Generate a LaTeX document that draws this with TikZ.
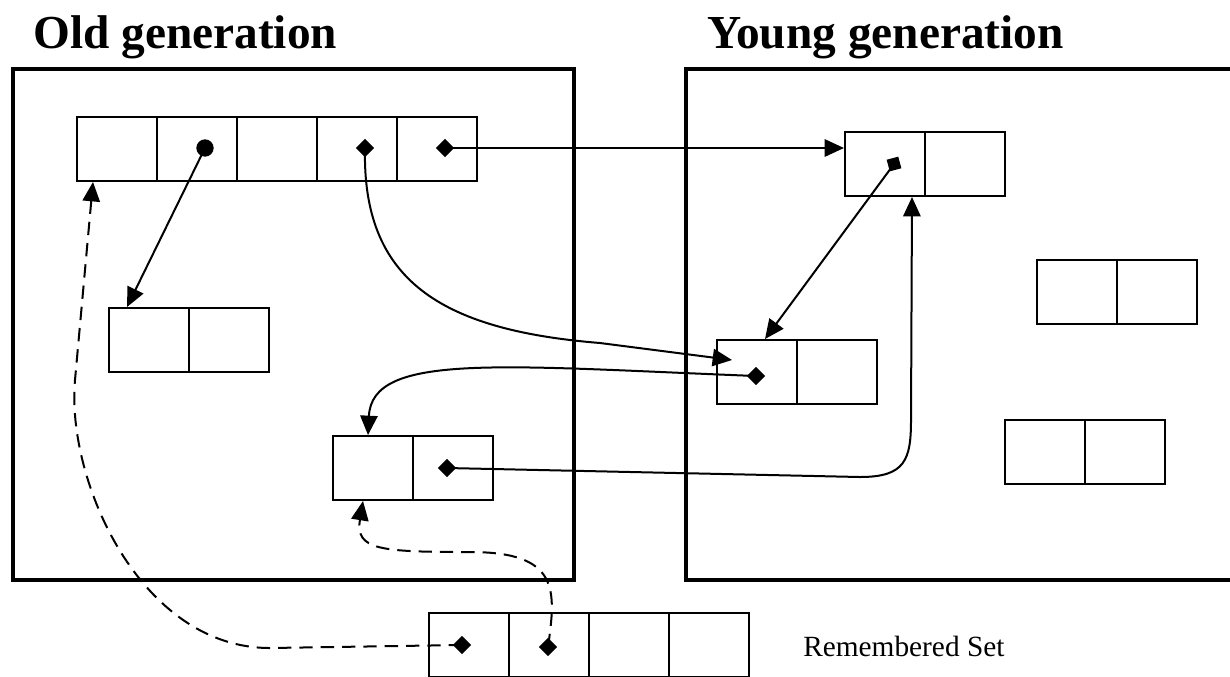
\documentclass[tikz,border=0pt]{standalone}
\usepackage{fontspec}
\setmainfont{Liberation Serif}
\usetikzlibrary{arrows.meta,shapes.geometric,calc}
\begin{document}
\begin{tikzpicture}[x=0.75pt,y=-0.75pt,
  gen/.style={draw,line width=3pt},
  cell/.style={draw,line width=1.5pt,minimum width=60pt,minimum height=48pt,inner sep=0pt},
  dia/.style={diamond,fill,inner sep=0pt,minimum size=14pt},
  ref/.style={line width=1.5pt,-{Triangle[length=14.5pt,width=13pt]}},
  rem/.style={ref,dash pattern=on 10pt off 6pt},
  title/.style={anchor=base west,inner sep=0pt,font=\fontsize{35.5}{40}\selectfont\bfseries}]
        \useasboundingbox (0,0) rectangle (1230,676);
        \clip (0,0) rectangle (1230,676);
        \node[title] (oldt) at (33,48) {Old generation};
        \node[title] (yngt) at (707,48) {Young generation};
        \draw[gen] (13,69) rectangle (574,580);
        \draw[gen] (686,69) rectangle (1260,580);
        \foreach \i in {0,...,4} \node[cell] (top\i) at (117+80*\i,149) {};
        \foreach \n/\x/\y in {yt/885/164,ol/149/340,ym/757/372,om/373/468,yr/1077/292,ys/1045/452}
          {\node[cell] (\n0) at (\x,\y) {}; \node[cell] (\n1) at (\x+80,\y) {};}
        \foreach \i in {0,...,3} \node[cell] (rs\i) at (469+80*\i,645) {};
        \node[anchor=base west,inner sep=0pt,font=\fontsize{22}{26}\selectfont] (rsl) at (803,656) {Remembered Set};
        \node[circle,fill,inner sep=0pt,minimum size=13pt] (p1) at (205,148) {};
        \node[dia] (p3) at (365,148) {};
        \node[dia] (p4) at (445,148) {};
        \node[fill,rotate=15,inner sep=0pt,minimum size=9pt] (py) at (894,164) {};
        \node[dia] (pm) at (756,376) {};
        \node[dia] (po) at (447,468) {};
        \node[dia] (pr0) at (462,645) {};
        \node[dia] (pr1) at (548,647) {};
        \draw[ref] (p4.center) -- (p4 -| yt0.west);
        \draw[ref] (p1.center) -- ($(ol0.north)+(-22,0)$);
        \draw[ref] (py.center) -- ($(ym0.north)+(8,0)$);
        \draw[ref] (p3.center) .. controls (362,280) and (440,330) .. (600,343) -- ($(ym0.north west)+(16,21)$);
        \draw[ref] (pm.center) .. controls (500,366) and (372,352) .. ($(om0.north)+(-5,0)$);
        \draw[ref] (po.center) -- (860,477) .. controls (905,477) and (911,460) .. (911,420) -- ($(yt0.south)+(27,0)$);
        \draw[rem] (pr0.center) -- (270,648) .. controls (140,648) and (66,480) .. (75,380) -- ($(top0.south)+(-24,0)$);
        \draw[rem] (pr1.center) .. controls (556,590) and (560,552) .. (470,552) .. controls (380,552) and (355,550) .. ($(om0.south)+(-10,0)$);
    \end{tikzpicture}
\end{document}
